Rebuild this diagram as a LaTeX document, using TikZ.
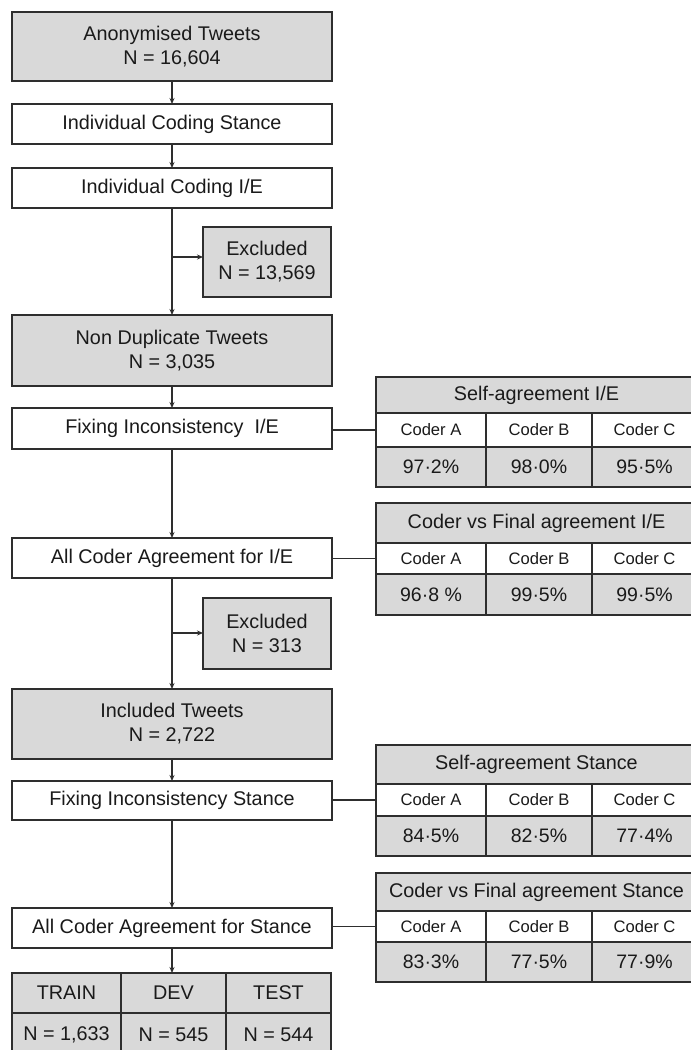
\documentclass[tikz,border=0pt]{standalone}
\usepackage{fontspec}
\setmainfont{Liberation Sans}
\usetikzlibrary{arrows.meta}

\definecolor{boxgray}{HTML}{D9D9D9}
\definecolor{edge}{HTML}{2E2E2E}
\definecolor{ink}{HTML}{1A1A1A}

\tikzset{
  box/.style={draw=edge, line width=1.2pt, inner sep=0pt, outer sep=0pt,
    align=center, text=ink, font=\fontsize{19.8}{24}\selectfont,
    minimum width=320pt},
  graybox/.style={box, fill=boxgray},
  cell/.style={draw=edge, line width=1.2pt, inner sep=0pt, outer sep=0pt,
    align=center, text=ink, anchor=north west},
  titlecell/.style={cell, fill=boxgray, font=\fontsize{19.8}{24}\selectfont},
  headcell/.style={cell, fill=white, font=\fontsize{16.6}{20}\selectfont},
  valcell/.style={cell, fill=boxgray, font=\fontsize{19.5}{23}\selectfont},
  arr/.style={draw=edge, line width=1.1pt, -{Stealth[length=6pt,width=5pt]}},
  link/.style={draw=edge, line width=1.1pt},
}

% agreement table: name, top y, row heights (title, header, values), title, three values
\newcommand{\agreetable}[9]{%
  \node[titlecell, minimum width=321pt, minimum height=#3pt] (#1t) at (376,#2) {#6};
  \node[headcell, minimum width=110pt, minimum height=#4pt] (#1a) at (#1t.south west) {Coder A};
  \node[headcell, minimum width=106pt, minimum height=#4pt] (#1b) at (#1a.north east) {Coder B};
  \node[headcell, minimum width=105pt, minimum height=#4pt] (#1c) at (#1b.north east) {Coder C};
  \node[valcell, minimum width=110pt, minimum height=#5pt] (#1x) at (#1a.south west) {#7};
  \node[valcell, minimum width=106pt, minimum height=#5pt] (#1y) at (#1x.north east) {#8};
  \node[valcell, minimum width=105pt, minimum height=#5pt] (#1z) at (#1y.north east) {#9};
}

\begin{document}
\begin{tikzpicture}[x=1pt, y=-1pt]
  \clip (0,0) rectangle (691,1050);
  \fill[white] (0,0) rectangle (691,1050);

  % main flow
  \node[graybox, minimum height=69pt] (anon) at (172,46.5) {Anonymised Tweets\\N = 16,604};
  \node[box, minimum height=40pt] (stance) at (172,124) {Individual Coding Stance};
  \node[box, minimum height=40pt] (codie) at (172,188) {Individual Coding I/E};
  \node[graybox, minimum width=128pt, minimum height=70pt] (excl1) at (267,262) {Excluded\\N = 13,569};
  \node[graybox, minimum height=71pt] (nondup) at (172,350.5) {Non Duplicate Tweets\\N = 3,035};
  \node[box, minimum height=41pt] (fixie) at (172,428.5) {Fixing Inconsistency\ \ I/E};
  \node[box, minimum height=40pt] (agrie) at (172,558) {All Coder Agreement for I/E};
  \node[graybox, minimum width=128pt, minimum height=71pt] (excl2) at (267,633.5) {Excluded\\N = 313};
  \node[graybox, minimum height=70pt] (incl) at (172,724) {Included Tweets\\N = 2,722};
  \node[box, minimum height=39pt] (fixst) at (172,800.5) {Fixing Inconsistency Stance};
  \node[box, minimum height=40pt] (agrst) at (172,928) {All Coder Agreement for Stance};

  % data split
  \node[titlecell, minimum width=109pt, minimum height=40pt] (train) at (12,973) {TRAIN};
  \node[titlecell, minimum width=105pt, minimum height=40pt] (dev) at (train.north east) {DEV};
  \node[titlecell, minimum width=105pt, minimum height=40pt] (test) at (dev.north east) {TEST};
  \node[titlecell, minimum width=109pt, minimum height=44pt] (ntrain) at (train.south west) {N = 1,633};
  \node[titlecell, minimum width=105pt, minimum height=44pt] (ndev) at (ntrain.north east) {N = 545};
  \node[titlecell, minimum width=105pt, minimum height=44pt] (ntest) at (ndev.north east) {N = 544};

  % agreement tables
  \agreetable{sie}{377}{36}{34}{40}{Self-agreement I/E}{97·2\%}{98·0\%}{95·5\%}
  \agreetable{fie}{503}{40}{31}{41}{Coder vs Final agreement I/E}{96·8 \%}{99·5\%}{99·5\%}
  \agreetable{sst}{745}{39}{32}{40}{Self-agreement Stance}{84·5\%}{82·5\%}{77·4\%}
  \agreetable{fst}{873}{38}{31}{40}{Coder vs Final agreement Stance}{83·3\%}{77·5\%}{77·9\%}

  % flow arrows
  \draw[arr] (anon.south) -- (stance.north);
  \draw[arr] (stance.south) -- (codie.north);
  \draw[arr] (codie.south) -- (nondup.north);
  \coordinate (b1) at (172,257);
  \draw[arr] (b1) -- (b1 -| excl1.west);
  \draw[arr] (nondup.south) -- (fixie.north);
  \draw[arr] (fixie.south) -- (agrie.north);
  \draw[arr] (agrie.south) -- (incl.north);
  \coordinate (b2) at (172,633);
  \draw[arr] (b2) -- (b2 -| excl2.west);
  \draw[arr] (incl.south) -- (fixst.north);
  \draw[arr] (fixst.south) -- (agrst.north);
  \draw[arr] (agrst.south) -- (agrst.south |- dev.north);

  % links to the agreement tables
  \draw[link] (fixie.east |- siea.west) -- (siea.west);
  \draw[link] (agrie.east |- fiea.west) -- (fiea.west);
  \draw[link] (fixst.east |- ssta.west) -- (ssta.west);
  \draw[link] (agrst.east |- fsta.west) -- (fsta.west);
\end{tikzpicture}
\end{document}
